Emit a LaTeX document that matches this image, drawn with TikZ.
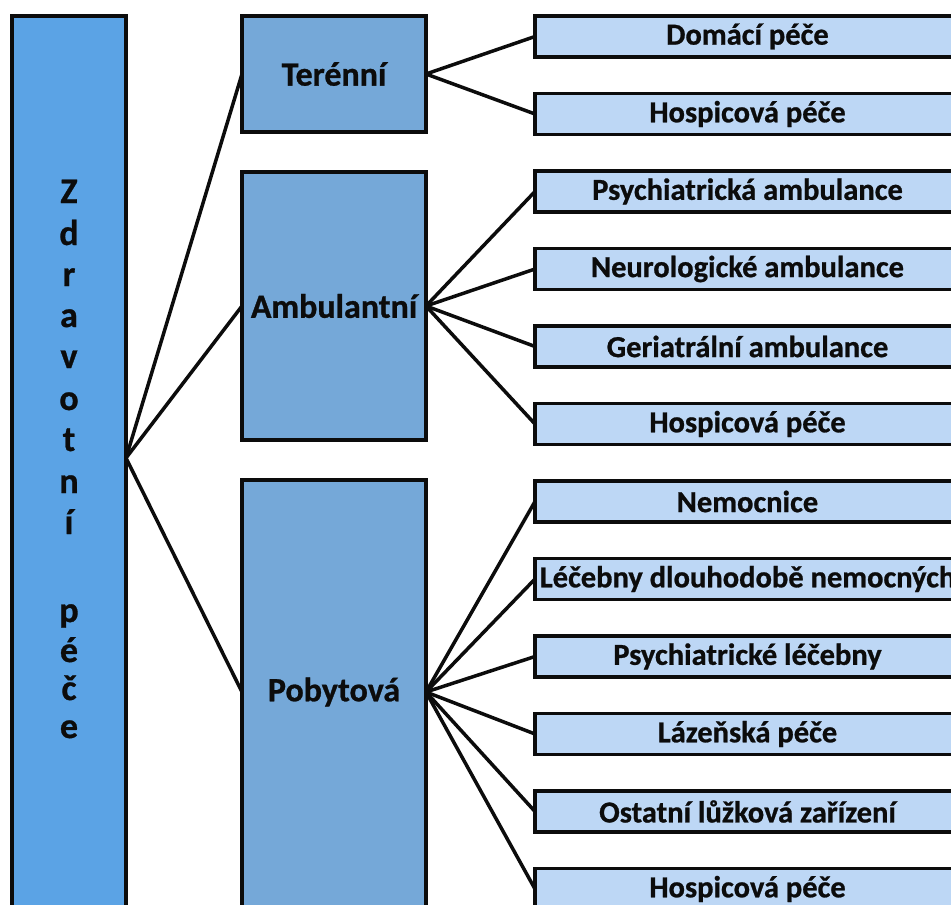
\documentclass[tikz,border=0pt]{standalone}
\usepackage{fontspec}
\setmainfont{Carlito}[BoldFeatures={FakeBold=0.8}]
\definecolor{mainblue}{RGB}{91,163,229}
\definecolor{midblue}{RGB}{117,168,216}
\definecolor{leafblue}{RGB}{189,215,245}
\definecolor{ink}{RGB}{12,12,12}
\tikzset{
  box/.style={draw=ink, line width=3.5pt, rectangle, inner sep=0pt, outer sep=0pt},
  mainbox/.style={box, fill=mainblue, minimum width=114pt, minimum height=904pt},
  catbox/.style={box, fill=midblue, minimum width=184pt, font=\fontsize{34}{40}\selectfont\bfseries, text=ink},
  leafbox/.style={box, fill=leafblue, minimum width=425pt, minimum height=41pt, font=\fontsize{30.5}{36}\selectfont\bfseries, text=ink},
  letter/.style={anchor=base, inner sep=0pt, font=\fontsize{36}{42}\selectfont\bfseries, text=ink},
  lbl/.style={inner sep=0pt, font=\fontsize{34}{40}\selectfont\bfseries, text=ink},
  conn/.style={draw=ink, line width=3.5pt}
}
\begin{document}
\begin{tikzpicture}[x=1pt, y=-1pt]
\useasboundingbox (0,0) rectangle (951,905);
\clip (0,0) rectangle (951,905);
\fill[white] (0,0) rectangle (951,905);
% main box
\node[mainbox] (main) at (69,468) {};
\foreach \ch/\yy [count=\i] in {Z/203, d/245, r/286, a/327, v/368, o/410, t/451, n/493, í/534, p/622, é/662, č/700, e/738}
  \node[letter] (z\i) at (69,\yy) {\ch};
\coordinate (hub) at (main.east |- 0,458);
% category boxes
\node[catbox, minimum height=116pt] (ter) at (334,74) {Terénní};
\node[catbox, minimum height=268pt] (amb) at (334,306) {Ambulantní};
\node[box, fill=midblue, minimum width=184pt, minimum height=440pt] (pob) at (334,700) {};
\node[lbl] (pobt) at (334,692) {Pobytová};
% leaves
\foreach \t [count=\i from 0] in {Domácí péče, Hospicová péče, Psychiatrická ambulance, Neurologické ambulance, Geriatrální ambulance, Hospicová péče, Nemocnice, Léčebny dlouhodobě nemocných, Psychiatrické léčebny, Lázeňská péče, Ostatní lůžková zařízení, Hospicová péče}
  \node[leafbox] (l\i) at (747.5, 36.5+77.5*\i) {\t};
% connectors
\draw[conn] (hub) -- (ter.west);
\draw[conn] (hub) -- (amb.west);
\draw[conn] (hub) -- (pob.west |- pobt.center);
\foreach \i in {0,1} \draw[conn] (ter.east) -- (l\i.west);
\foreach \i in {2,3,4,5} \draw[conn] (amb.east) -- (l\i.west);
\foreach \i in {6,...,11} \draw[conn] (pob.east |- pobt.center) -- (l\i.west);
\end{tikzpicture}
\end{document}
